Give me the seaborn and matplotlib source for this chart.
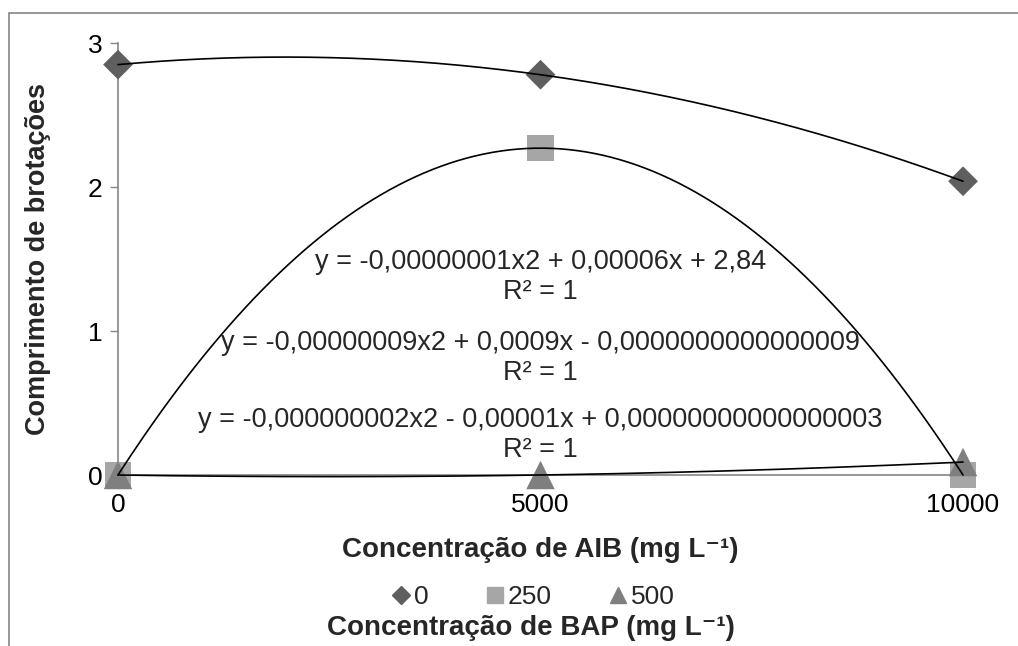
import matplotlib
matplotlib.use('Agg')
import numpy as np
import pandas as pd
import matplotlib.pyplot as plt
import seaborn as sns
from matplotlib.lines import Line2D
from matplotlib.patches import Rectangle

sns.set_theme(style="white")
plt.rcParams['font.family'] = ['Liberation Sans', 'DejaVu Sans']

# dados
aib = [0, 5000, 10000]
bap_0 = [2.85, 2.78, 2.04]
bap_250 = [0.0, 2.27, 0.0]
bap_500 = [0.0, 0.0, 0.09]
series_names = ["0", "250", "500"]
equations = [
    "y = -0,00000001x2 + 0,00006x + 2,84\nR² = 1",
    "y = -0,00000009x2 + 0,0009x - 0,0000000000000009\nR² = 1",
    "y = -0,000000002x2 - 0,00001x + 0,00000000000000003\nR² = 1",
]
eq_y = [1.375, 0.815, 0.28]

colors = {"0": "#5f5f5f", "250": "#a6a6a6", "500": "#7f7f7f"}
markers = {"0": "D", "250": "s", "500": "^"}
sizes = {"0": 230, "250": 360, "500": 420}

df = pd.DataFrame({
    "AIB": aib * 3,
    "valor": bap_0 + bap_250 + bap_500,
    "BAP": [n for n in series_names for _ in aib],
})

fig = plt.figure(figsize=(10.18, 6.46), dpi=100)
ax = fig.add_axes([0.1159, 0.2647, 0.8301, 0.6687])

for name in series_names:
    sub = df[df["BAP"] == name]
    sns.scatterplot(data=sub, x="AIB", y="valor", marker=markers[name],
                    color=colors[name], s=sizes[name], edgecolor="none",
                    ax=ax, clip_on=False, zorder=3, legend=False)

# linhas de tendência polinomiais (ordem 2)
xs = np.linspace(0, 10000, 200)
for name in series_names:
    sub = df[df["BAP"] == name]
    coef = np.polyfit(sub["AIB"], sub["valor"], 2)
    ax.plot(xs, np.polyval(coef, xs), color="black", lw=1.2, zorder=4, clip_on=False)

for txt, yy in zip(equations, eq_y):
    ax.text(5000, yy, txt, ha="center", va="center", fontsize=19.5, linespacing=1.2, zorder=5)

ax.set_xlim(0, 10000)
ax.set_ylim(0, 3)
ax.set_xticks([0, 5000, 10000])
ax.set_yticks([0, 1, 2, 3])
ax.tick_params(axis="both", labelsize=19, colors="black")
ax.tick_params(axis="y", length=6, width=1, color="#868686", direction="out", left=True, pad=5)
ax.tick_params(axis="x", length=0, pad=13)
for s in ["top", "right"]:
    ax.spines[s].set_visible(False)
for s in ["left", "bottom"]:
    ax.spines[s].set_color("#868686")
    ax.spines[s].set_linewidth(1.2)

ax.set_xlabel("Concentração de AIB (mg L⁻¹)", fontsize=20, fontweight="bold")
ax.xaxis.set_label_coords(0.5, -0.143)
ax.set_ylabel("Comprimento de brotações", fontsize=19.5, fontweight="bold")
ax.yaxis.set_label_coords(-0.079, 0.5)

handles = [Line2D([], [], marker=markers[n], color=colors[n], ls="none",
                  markersize=12 if n != "0" else 9, label=n) for n in series_names]
fig.legend(handles=handles, loc="center", bbox_to_anchor=(0.522, 0.076), ncol=3,
           frameon=False, fontsize=19, handletextpad=0.0, columnspacing=2.0,
           handlelength=1.0)
fig.text(0.522, 0.028, "Concentração de BAP (mg L⁻¹)", ha="center", va="center",
         fontsize=20, fontweight="bold")

# moldura externa do gráfico
fig.patches.append(Rectangle((0.009, -0.1), 1.2, 1.08, transform=fig.transFigure,
                             fill=False, edgecolor="#868686", lw=1.2))

fig.savefig("out.png", dpi=100)
plt.close(fig)
